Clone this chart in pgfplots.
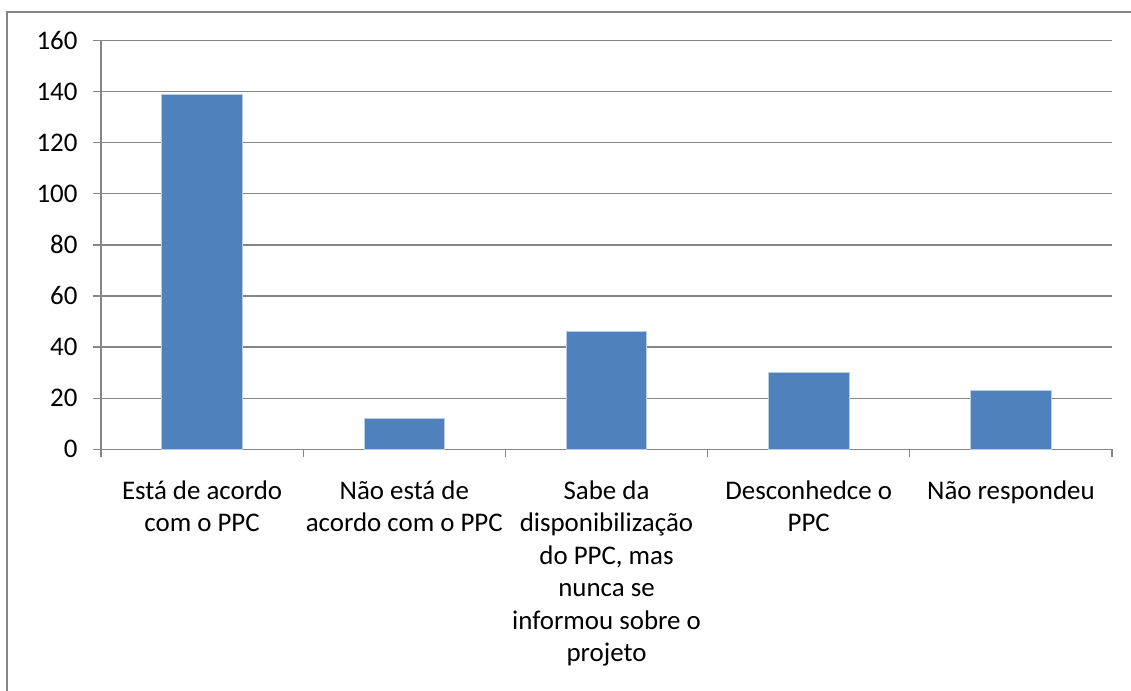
\documentclass[border=0pt]{standalone}
\usepackage{pgfplots}
\pgfplotsset{compat=1.18}
\usetikzlibrary{calc}
\usepackage{fontspec}
\setmainfont{Carlito}
\definecolor{barblue}{HTML}{4F81BD}
\definecolor{baredge}{HTML}{B9CDE5}
\definecolor{gridgray}{HTML}{868686}
\begin{document}
\begin{tikzpicture}
\begin{axis}[
  name=ax,
  at={(0,0)}, anchor=south west,
  scale only axis,
  width=1011bp, height=408.8bp,
  xmin=-0.5, xmax=4.5,
  ymin=0, ymax=160,
  ytick={0,20,...,160},
  xtick={0,1,2,3,4},
  xticklabels={{Está de acordo\\com o PPC},{Não está de\\acordo com o PPC},{Sabe da\\disponibilização\\do PPC, mas\\nunca se\\informou sobre o\\projeto},{Desconhedce o\\PPC},{Não respondeu}},
  minor xtick={-0.5,0.5,...,4.5},
  major x tick style={draw=none},
  minor tick length=8bp,
  major tick length=8bp,
  tick align=outside,
  axis x line*=bottom,
  axis y line*=left,
  axis line style={draw=gridgray, line width=1.3bp},
  every tick/.style={draw=gridgray, line width=1.3bp},
  ymajorgrids,
  major grid style={draw=gridgray, line width=1.3bp},
  /pgf/number format/assume math mode=true,
  tick label style={font=\fontsize{27}{32.5}\selectfont, text=black},
  xticklabel style={align=center, anchor=north, yshift=-20bp},
  yticklabel style={anchor=east, xshift=-12bp},
  ybar, bar width=80.6bp,
  clip=false,
]
\addplot[fill=barblue, draw=baredge, line width=0.8bp] coordinates {(0,139) (1,12) (2,46) (3,30) (4,23)};
\end{axis}
\pgfresetboundingbox
\path[use as bounding box] (ax.south west) ++(-101bp,-241.7bp) rectangle ++(1131bp,691bp);
\draw[gridgray, line width=1.5bp] ($(ax.south west)+(-94bp,-260bp)$) -- ($(ax.south west)+(-94bp,437.3bp)$) -- ($(ax.south west)+(1050bp,437.3bp)$);
\end{tikzpicture}
\end{document}
